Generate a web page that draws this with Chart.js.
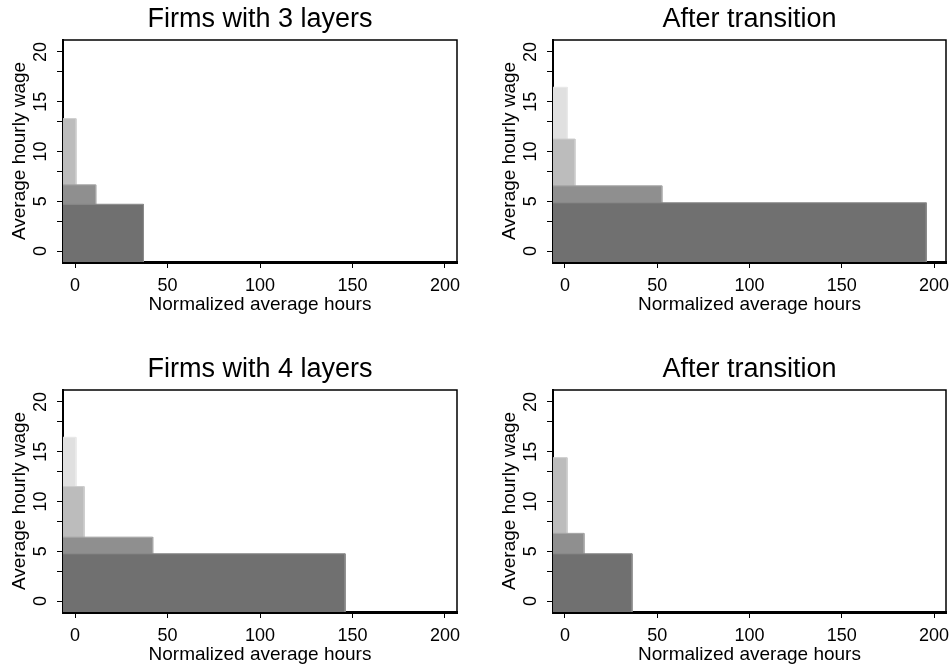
<!DOCTYPE html>
<html>
<head>
<meta charset="utf-8">
<script src="https://cdn.jsdelivr.net/npm/chart.js@4"></script>
<style>
  body { margin: 0; background: #fff; width: 951px; height: 666px; overflow: hidden; position: relative; }
  canvas { position: absolute; }
</style>
</head>
<body>
<canvas id="panel1" width="475" height="350" style="left:0;top:0"></canvas>
<canvas id="panel2" width="476" height="350" style="left:475px;top:0"></canvas>
<canvas id="panel3" width="475" height="350" style="left:0;top:350px"></canvas>
<canvas id="panel4" width="476" height="350" style="left:475px;top:350px"></canvas>
<script>
// Axis ticks
const xTicks = [0, 50, 100, 150, 200];
const yTicks = [0, 3, 5, 8, 10, 13, 15, 18, 20];
const yLabels = [0, 5, 10, 15, 20];
const X_MIN = -6.5, X_MAX = 206.5;
const Y_MIN = -1.1, Y_MAX = 21.2;

// Layer colours, from the bottom layer up
const layerColors = ['#707070', '#8f8f8f', '#bcbcbc', '#e0e0e0'];
const layerEdges = ['#8a8a8a', '#a6a6a6', '#cccccc', '#e9e9e9'];

// Firms with 3 layers
const hours3 = [37, 11.2, 0.5];
const wage3 = [4.7, 6.65, 13.3];
// After transition (3 -> 4 layers)
const hours3to4 = [195.8, 52.5, 5.4, 1.3];
const wage3to4 = [4.85, 6.55, 11.25, 16.45];
// Firms with 4 layers
const hours4 = [146, 42, 4.9, 0.5];
const wage4 = [4.75, 6.42, 11.5, 16.45];
// After transition (4 -> 3 layers)
const hours4to3 = [36.3, 10.3, 1.1];
const wage4to3 = [4.75, 6.8, 14.4];

const FONT = 'Liberation Sans, Arial, sans-serif';

// box round the plot plus rotated y tick labels
const framePlugin = {
    id: 'frame',
    afterDraw(chart) {
        const ctx = chart.ctx;
        const a = chart.chartArea;
        ctx.save();
        ctx.strokeStyle = '#000';
        ctx.lineWidth = 1.5;
        ctx.beginPath();
        ctx.moveTo(a.left, a.top);
        ctx.lineTo(a.right, a.top);
        ctx.lineTo(a.right, a.bottom);
        ctx.stroke();

        const yScale = chart.scales.y;
        ctx.fillStyle = '#000';
        ctx.font = '18px ' + FONT;
        ctx.textAlign = 'center';
        ctx.textBaseline = 'alphabetic';
        yLabels.forEach(v => {
            ctx.save();
            ctx.translate(a.left - 17, yScale.getPixelForValue(v));
            ctx.rotate(-Math.PI / 2);
            ctx.fillText(String(v), 0, 0);
            ctx.restore();
        });
        ctx.restore();
    }
};

function makePanel(id, title, hours, wages, yAxisWidth, padRight) {
    // darkest (bottom) layer first so it is drawn on top
    const datasets = hours.map((h, i) => ({
        data: [{x: X_MIN, y: wages[i]}, {x: h, y: wages[i]}, {x: h, y: Y_MIN}],
        showLine: true,
        fill: 'start',
        backgroundColor: layerColors[i],
        borderColor: layerEdges[i],
        borderWidth: 1,
        pointRadius: 0,
        tension: 0
    }));

    new Chart(document.getElementById(id), {
        type: 'scatter',
        data: { datasets: datasets },
        plugins: [framePlugin],
        options: {
            responsive: false,
            animation: false,
            layout: { padding: { top: 0, left: 0, right: padRight, bottom: 34.8 } },
            plugins: {
                legend: { display: false },
                tooltip: { enabled: false },
                title: {
                    display: true,
                    text: title,
                    fullSize: false,
                    color: '#000',
                    font: { family: FONT, size: 27, weight: 'normal', lineHeight: 1.2 },
                    padding: { top: 3.8, bottom: 3.8 }
                }
            },
            scales: {
                x: {
                    type: 'linear',
                    min: X_MIN,
                    max: X_MAX,
                    afterBuildTicks: s => { s.ticks = xTicks.map(v => ({value: v})); },
                    afterFit: s => {
                        s.height = 53.2;
                        // labels may hang past the frame, like the original
                        s.paddingLeft = 0;
                        s.paddingRight = 0;
                    },
                    grid: { drawOnChartArea: false, drawTicks: true, tickLength: 6, color: '#000' },
                    border: { display: true, color: '#000', width: 3 },
                    ticks: { color: '#000', padding: 7, font: { family: FONT, size: 18 }, maxRotation: 0 },
                    title: {
                        display: true,
                        text: 'Normalized average hours',
                        color: '#000',
                        font: { family: FONT, size: 19, lineHeight: 1.2 },
                        padding: { top: 0, bottom: -1.2 }
                    }
                },
                y: {
                    type: 'linear',
                    min: Y_MIN,
                    max: Y_MAX,
                    afterBuildTicks: s => { s.ticks = yTicks.map(v => ({value: v})); },
                    afterFit: s => { s.width = yAxisWidth; },
                    grid: { drawOnChartArea: false, drawTicks: true, tickLength: 6, color: '#000' },
                    border: { display: true, color: '#000', width: 2 },
                    ticks: { display: false },
                    title: {
                        display: true,
                        text: 'Average hourly wage',
                        color: '#000',
                        font: { family: FONT, size: 19, lineHeight: 1.2 },
                        padding: { top: yAxisWidth - 43 - 11.4, bottom: 0 }
                    }
                }
            }
        }
    });
}

window.onload = function() {
    makePanel('panel1', 'Firms with 3 layers', hours3, wage3, 63, 18);
    makePanel('panel2', 'After transition', hours3to4, wage3to4, 78, 5);
    makePanel('panel3', 'Firms with 4 layers', hours4, wage4, 63, 18);
    makePanel('panel4', 'After transition', hours4to3, wage4to3, 78, 5);
};
</script>
</body>
</html>
